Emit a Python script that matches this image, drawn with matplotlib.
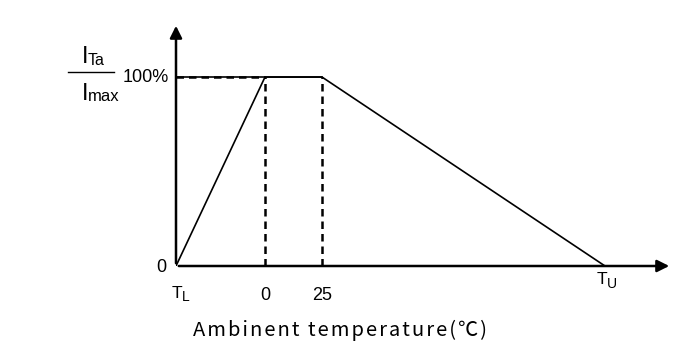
import matplotlib
matplotlib.use('Agg')
import matplotlib.pyplot as plt

plt.rcParams['font.family'] = ['Liberation Sans', 'DejaVu Sans']

# derating curve (schematic units along temperature axis)
curve_x = [0, 89, 146, 429]      # T_L, 0C, 25C, T_U
curve_y = [0, 100, 100, 0]       # % of I_max
tick_pos = [89, 146]
tick_labels = ['0', '25']
xlabel = 'Ambinent temperature(℃)'

W, H = 680, 351
fig = plt.figure(figsize=(6.8, 3.51), dpi=100)
ax = fig.add_axes([176 / W, 85 / H, 496 / W, 243 / H])
ax.set_xlim(0, 496)
ax.set_ylim(0, 128.6)
ax.axis('off')
renderer = fig.canvas.get_renderer()

# axes with arrows
ax.annotate('', xy=(496, 0), xytext=(0, 0),
            arrowprops=dict(arrowstyle='-|>', lw=1.8, color='black', mutation_scale=18),
            annotation_clip=False)
ax.annotate('', xy=(0, 128.6), xytext=(0, 0),
            arrowprops=dict(arrowstyle='-|>', lw=1.8, color='black', mutation_scale=18),
            annotation_clip=False)

# curve
ax.plot(curve_x, curve_y, color='black', lw=1.2)
ax.plot([0, 0], [0, 100], color='black', lw=1.2)
ax.plot([0, curve_x[2]], [100, 100], color='black', lw=1.2)

# dashed guides
ax.plot([0, curve_x[1]], [100, 100], color='black', lw=1.8, ls=(0, (3, 2)))
for xv in curve_x[1:3]:
    ax.plot([xv, xv], [0, 100], color='black', lw=1.8, ls=(0, (3, 2)))


def px_text(x, y, s, fs, **kw):
    # x, y in pixels from top-left of the figure
    return fig.text(x / W, 1 - y / H, s, fontsize=fs, **kw)


def sub_text(x, base, main, sub, fs, fs_sub, sub_base, kern=0):
    t = px_text(x, base, main, fs, ha='left', va='baseline')
    w = t.get_window_extent(renderer).width
    px_text(x + w + kern, sub_base, sub, fs_sub, ha='left', va='baseline')


fs = 13
px_text(169, 78, '100%', fs, ha='right', va='center')
px_text(166, 268, '0', fs, ha='right', va='center')
for p, lab in zip(tick_pos, tick_labels):
    ax.text(p, -11, lab, ha='center', va='top', fontsize=fs)
sub_text(172, 298, 'T', 'L', 12.5, 10, 301, kern=-1)
sub_text(597, 284, 'T', 'U', 12.5, 10, 288, kern=-1)

# y label as fraction
sub_text(82, 63, 'I', 'Ta', 17, 11.5, 65, kern=-1)
sub_text(82, 100, 'I', 'max', 17, 12, 101, kern=-1)
fig.add_artist(plt.Line2D([68 / W, 114 / W], [1 - 72 / H, 1 - 72 / H],
                          color='black', lw=1.0))

# x label, letter-spaced with hair spaces (taken from DejaVu Sans)
spaced = '\u200a'.join(xlabel)
px_text(340, 330, spaced, 14.5, ha='center', va='center',
        family=['Noto Sans CJK SC', 'DejaVu Sans'])

fig.savefig('out.png', dpi=100)
